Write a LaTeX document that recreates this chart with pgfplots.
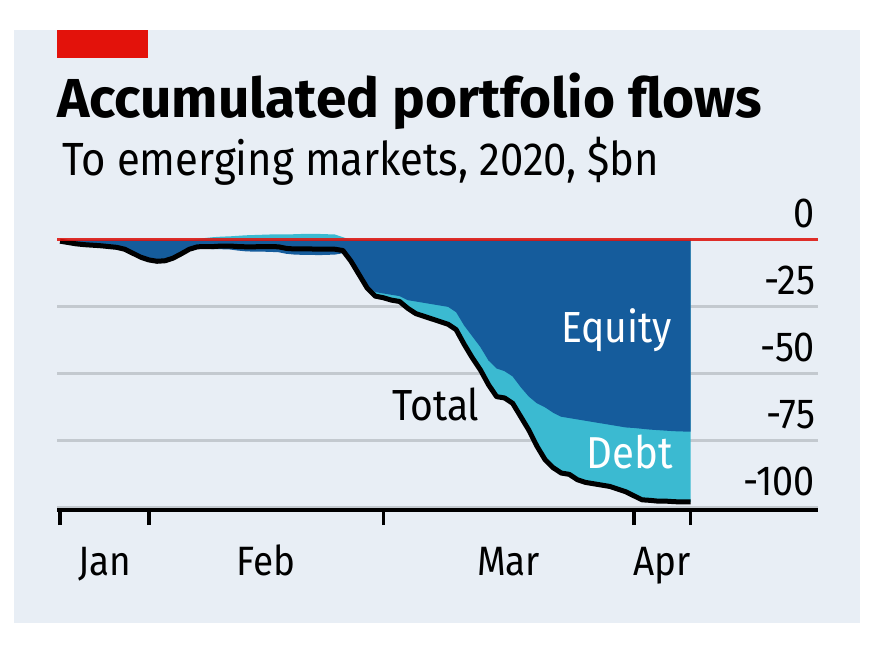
\documentclass[border=0pt]{standalone}
\usepackage{fontspec}
\setmainfont{Fira Sans}[FakeStretch=0.9]
\newfontfamily\titlefont{Fira Sans}
\usepackage{pgfplots}
\pgfplotsset{compat=1.18}
\usepackage{pgfplotstable}

\definecolor{bg}{HTML}{E8EEF5}
\definecolor{eqblue}{HTML}{155C9C}
\definecolor{debtcyan}{HTML}{3BBAD1}
\definecolor{econred}{HTML}{E3120B}
\definecolor{gridgray}{HTML}{C3C9CF}

% x = day of 2020 counted from Jan 1 = 0; T = total, E = equity, U = positive debt
\pgfplotstableread{
x T E U
20 -0.5 -0.5 0
21 -1 -1 0
22 -1.5 -1.5 0
23 -1.8 -1.8 0
24 -2 -2 0
25 -2.2 -2.2 0
26 -2.5 -2.5 0
27 -2.8 -2.8 0
28 -3.5 -3.5 0
29 -5 -5 0
30 -6.5 -6.5 0
31 -7.5 -7.5 0
32 -8 -8 0
33 -7.8 -7.8 0
34 -6.8 -6.8 0
35 -5.2 -5.2 0
36 -3.5 -3.5 0
37 -2.6 -2.8 0.2
38 -2.5 -3.2 0.7
39 -2.5 -3.5 1.0
40 -2.3 -3.5 1.2
41 -2.3 -3.6 1.3
42 -2.5 -4.0 1.5
43 -2.6 -4.3 1.7
44 -2.6 -4.4 1.8
45 -2.5 -4.4 1.9
46 -2.5 -4.5 2.0
47 -2.6 -4.6 2.0
48 -3.2 -5.2 2.0
49 -3.4 -5.5 2.1
50 -3.4 -5.6 2.2
51 -3.4 -5.6 2.2
52 -3.5 -5.7 2.2
53 -3.5 -5.6 2.1
54 -3.5 -5.5 2.0
55 -4 -5 1.0
56 -8 -8 0
57 -13 -12.5 0
58 -18 -17 0
59 -21 -19.5 0
60 -21.6 -20 0
61 -22.5 -20.5 0
62 -23 -21 0
63 -25.5 -22.5 0
64 -27.5 -23 0
65 -28.5 -23.5 0
66 -29.5 -24 0
67 -30.5 -24.5 0
68 -31.5 -25 0
69 -33.5 -27 0
70 -39 -32 0
71 -44 -36 0
72 -48.5 -40 0
73 -54 -45 0
74 -58.5 -48 0
75 -59 -49 0
76 -61 -51 0
77 -66 -55 0
78 -71 -58.5 0
79 -77 -61 0
80 -82 -62.5 0
81 -85 -64.5 0
82 -87 -66 0
83 -87.5 -66.5 0
84 -89.5 -67 0
85 -90.5 -67.5 0
86 -91 -68 0
87 -91.5 -68.5 0
88 -92 -69 0
89 -93 -69.5 0
90 -94 -70 0
91 -95.5 -70.2 0
92 -97 -70.5 0
93 -97.2 -70.8 0
94 -97.5 -71 0
95 -97.5 -71.2 0
96 -97.7 -71.4 0
97 -97.8 -71.5 0
98 -97.8 -71.6 0
}\flows

\begin{document}
\begin{tikzpicture}[x=1pt,y=1pt]
\fill[white] (0,0) rectangle (875,654);
\fill[bg] (14,31) rectangle (860,624);
\fill[econred] (57,596) rectangle (148,624);
\node[anchor=base west, inner sep=0pt, font=\titlefont\bfseries\fontsize{54.9}{60}\selectfont] at (57,536) {Accumulated portfolio flows};
\node[anchor=base west, inner sep=0pt, font=\fontsize{46.5}{52}\selectfont] at (62,478) {To emerging markets, 2020, \$bn};
\begin{axis}[
  at={(57pt,144pt)}, anchor=south west, scale only axis,
  width=761.2pt, height=278.2pt,
  xmin=19.62, xmax=113.8, ymin=-100.8, ymax=3,
  axis x line*=bottom, axis y line*=right,
  x axis line style={-, line width=4.5pt, black},
  y axis line style={draw=none},
  ytick={-100,-75,-50,-25,0},
  yticklabels={-100,-75,-50,-25,0},
  ytick style={draw=none},
  ymajorgrids, grid style={gridgray, line width=3pt},
  xtick={25.5,45.5,75.5,94.5}, xticklabels={Jan,Feb,Mar,Apr},
  minor xtick={20,31,60,91,98},
  major tick length=0pt, minor tick length=15pt,
  tick align=outside,
  minor x tick style={black, line width=3.5pt},
  yticklabel style={font=\fontsize{42}{46}\selectfont, anchor=base east, inner sep=0pt, xshift=-3pt, yshift=12pt},
  xticklabel style={font=\fontsize{41}{46}\selectfont, anchor=base, inner sep=0pt, yshift=-65pt},
]
\addplot[draw=none, fill=debtcyan] table[x=x,y=T]{\flows} \closedcycle;
\addplot[draw=none, fill=debtcyan] table[x=x,y=U]{\flows} \closedcycle;
\addplot[draw=none, fill=eqblue] table[x=x,y=E]{\flows} \closedcycle;
\addplot[black, line width=5pt, line join=round] table[x=x,y=T]{\flows};
\draw[econred, line width=3pt, opacity=0.85] (axis cs:19.62,0) -- (axis cs:113.8,0);
\end{axis}
\node[anchor=base west, inner sep=0pt, font=\fontsize{43.5}{50}\selectfont] at (392,234) {Total};
\node[anchor=base east, inner sep=0pt, text=white, font=\fontsize{43.5}{50}\selectfont] at (672,311) {Equity};
\node[anchor=base east, inner sep=0pt, text=white, font=\fontsize{44.7}{50}\selectfont] at (673,186) {Debt};
\end{tikzpicture}
\end{document}
